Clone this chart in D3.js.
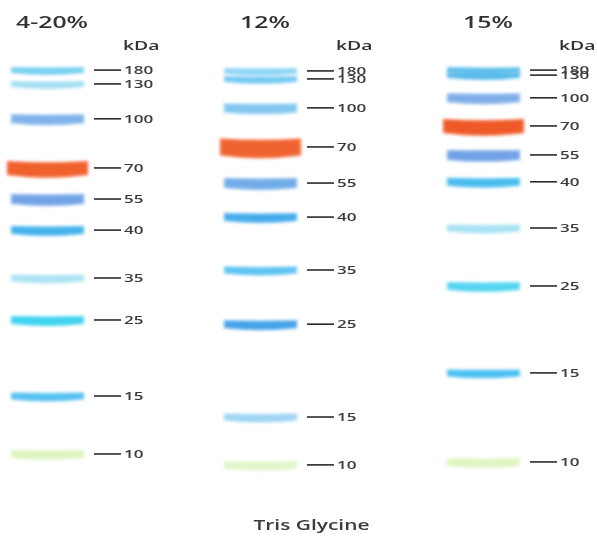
<!DOCTYPE html>
<html>
<head>
<meta charset="utf-8">
<script src="https://cdn.jsdelivr.net/npm/d3@7"></script>
<style>
  body { margin: 0; background: #fff; }
  svg { display: block; }
</style>
</head>
<body>
<div id="chart"></div>
<script>
// lanes and marker sizes
const LANES = ["4-20%", "12%", "15%"];
const MARKERS = ["180", "130", "100", "70", "55", "40", "35", "25", "15", "10"];
const UNIT = "kDa";
const CAPTION = "Tris Glycine";

// relative migration of each band (0 = top of gel, 1 = bottom)
const MIGRATION_4_20 = [0.024, 0.057, 0.140, 0.257, 0.331, 0.405, 0.519, 0.619, 0.800, 0.938];
const MIGRATION_12 = [0.026, 0.045, 0.114, 0.207, 0.293, 0.374, 0.500, 0.629, 0.850, 0.964];
const MIGRATION_15 = [0.024, 0.036, 0.090, 0.157, 0.226, 0.290, 0.400, 0.538, 0.745, 0.957];

// band colours per lane (prestained marker dyes)
const COLORS_4_20 = ["#6fcdf0", "#9fdcf2", "#78ade9", "#f05b28", "#6a9fe6", "#38aeea", "#a6e2f2", "#34d0ee", "#4cbcf0", "#dbf4bd"];
const COLORS_12 = ["#86d2f4", "#6cc6f2", "#7cc4f0", "#ef5e2a", "#6aa8e8", "#3aa6ea", "#52bff0", "#3a9de8", "#98d2f2", "#e0f6c8"];
const COLORS_15 = ["#56bbe9", "#4fb6ea", "#78a9e8", "#ee5522", "#6a9de4", "#3eb8ec", "#a2e0f2", "#4cd3f0", "#40bcf0", "#def4bf"];

const MIGRATION = [MIGRATION_4_20, MIGRATION_12, MIGRATION_15];
const COLORS = [COLORS_4_20, COLORS_12, COLORS_15];

// band thickness in px (style, not data)
const THICK = [7, 7, 10, 15, 11, 9, 8, 9, 8, 9];

const W = 597, H = 536;
const TEXT_STRETCH = 1.55; // the source picture is squashed horizontally

const svg = d3.select("#chart").append("svg")
  .attr("width", W)
  .attr("height", H);

const defs = svg.append("defs");
defs.append("filter")
  .attr("id", "soft")
  .attr("x", "-10%").attr("y", "-100%")
  .attr("width", "120%").attr("height", "300%")
  .append("feGaussianBlur")
  .attr("stdDeviation", "1.8 1.5");
defs.append("filter")
  .attr("id", "softText")
  .append("feGaussianBlur")
  .attr("stdDeviation", "0.35");

const laneX = d3.scaleOrdinal().domain(LANES).range([12, 225, 448]);
const y = d3.scaleLinear().domain([0, 1]).range([60, 480]);

const BAND_W = 71;

function bandPath(x0, x1, yc, h, sag) {
  const mid = (x0 + x1) / 2;
  const t = yc - h / 2, b = yc + h / 2;
  return `M${x0},${t + 1.5} Q${mid},${t + 2 * sag} ${x1},${t + 1.5}` +
    ` L${x1},${b - 1.5} Q${mid},${b + 2 * sag} ${x0},${b - 1.5} Z`;
}

function stretchedText(g, x, yy, txt, size, weight, fill, anchor) {
  return g.append("g")
    .attr("transform", `translate(${x},${yy}) scale(${TEXT_STRETCH},1)`)
    .append("text")
    .attr("text-anchor", anchor || "start")
    .attr("font-family", "'Open Sans', 'DejaVu Sans', sans-serif")
    .attr("font-size", size)
    .attr("font-weight", weight)
    .attr("fill", fill)
    .attr("filter", "url(#softText)")
    .text(txt);
}

LANES.forEach((lane, li) => {
  const g = svg.append("g").attr("class", "lane");
  const x0 = laneX(lane);
  const mig = MIGRATION[li];
  const cols = COLORS[li];

  const bands = MARKERS.map((m, i) => ({
    kda: m, pos: mig[i], color: cols[i],
    h: THICK[i] + (li === 1 && i === 3 ? 3 : 0)
  }));

  // outer haze + core of each band
  [["haze", 0.45, 1.5], ["core", 0.9, 0]].forEach(([cls, op, grow]) => {
    g.selectAll("path." + cls)
      .data(bands)
      .enter()
      .append("path")
      .attr("class", cls)
      .attr("d", d => {
        const wide = d.kda === "70" ? 4 : 0;
        return bandPath(x0 - wide - grow, x0 + BAND_W + wide + grow, y(d.pos),
          d.h + grow * 2, d.kda === "70" ? 2 : 1.2);
      })
      .attr("fill", d => d.color)
      .attr("opacity", d => d.kda === "70" ? Math.min(1, op + 0.05) : op)
      .attr("filter", "url(#soft)");
  });

  // marker ticks
  const tx = x0 + 82;
  g.selectAll("line.tick")
    .data(bands)
    .enter()
    .append("line")
    .attr("class", "tick")
    .attr("x1", tx)
    .attr("x2", tx + 27)
    .attr("y1", d => y(d.pos))
    .attr("y2", d => y(d.pos))
    .attr("stroke", "#2b2b2b")
    .attr("stroke-width", 1.6);

  bands.forEach(d => {
    stretchedText(g, tx + 30, y(d.pos) + 4, d.kda, 11, 600, "#3a3a3a");
  });

  // lane title and unit
  stretchedText(g, x0 + 40, 28, lane, 16, 600, "#333", "middle");
  stretchedText(g, tx + 29, 50, UNIT, 12.5, 600, "#333");
});

stretchedText(svg, W / 2 + 13, 530, CAPTION, 13.5, 600, "#3a3a3a", "middle");
</script>
</body>
</html>
